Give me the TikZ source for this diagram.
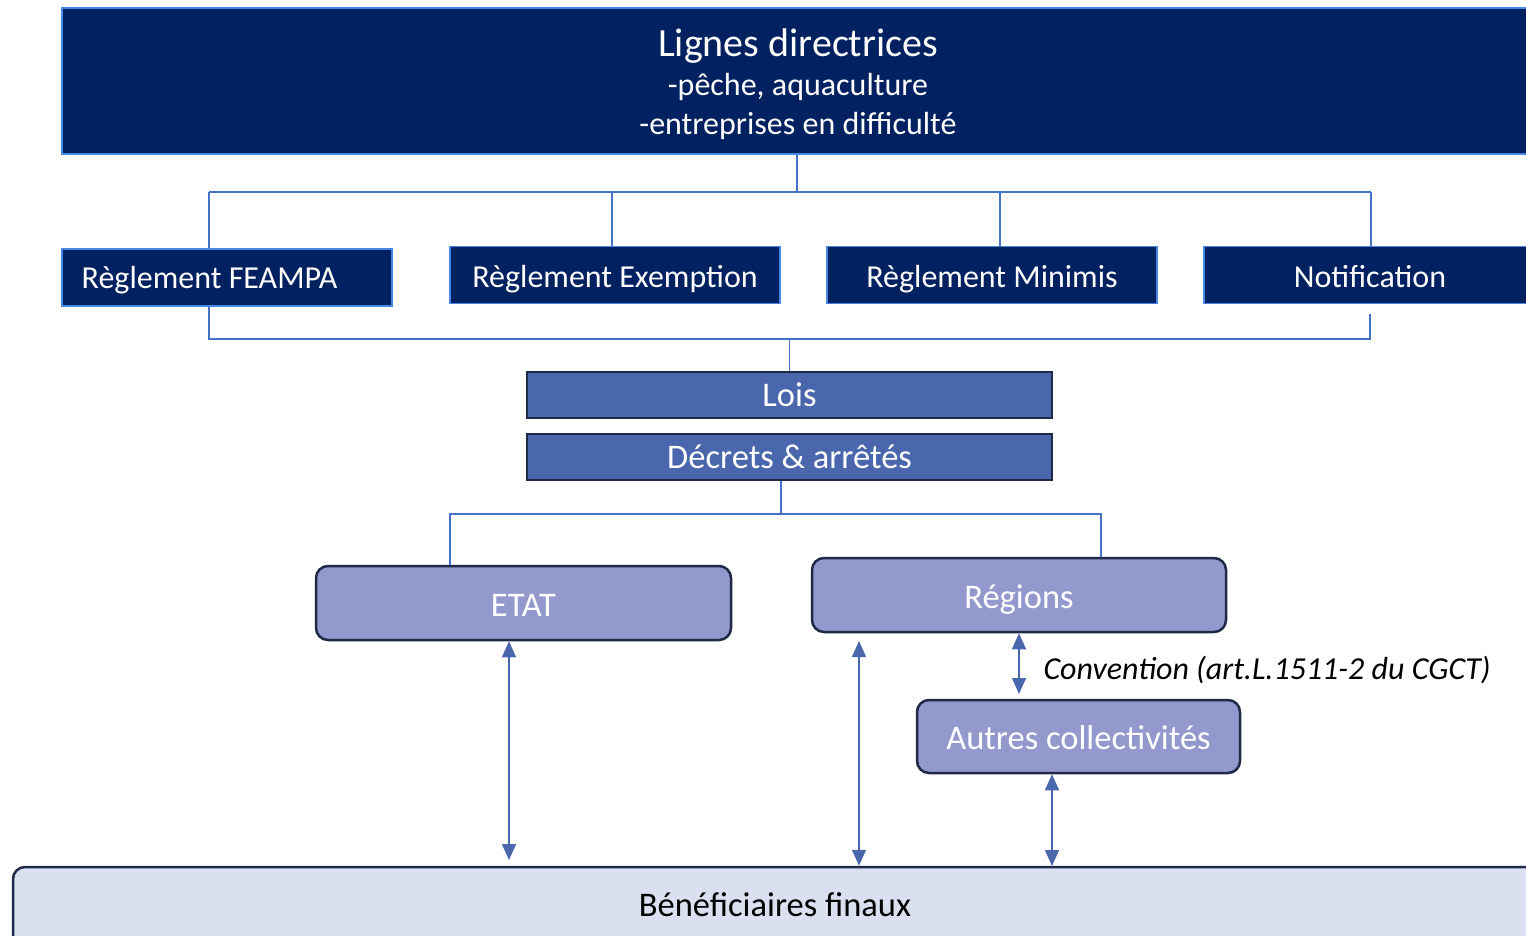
\documentclass[tikz,border=0pt]{standalone}
\usepackage{fontspec}
\setmainfont{Carlito}
\usetikzlibrary{arrows.meta}
\definecolor{navy}{RGB}{2,33,96}
\definecolor{lightedge}{RGB}{70,135,230}
\definecolor{connc}{RGB}{68,114,196}
\definecolor{midblue}{RGB}{74,103,173}
\definecolor{darkedge}{RGB}{30,42,72}
\definecolor{lav}{RGB}{147,153,205}
\definecolor{pale}{RGB}{218,224,240}
\tikzset{
  topbox/.style={draw=lightedge,line width=1.5pt,fill=navy,text=white,inner sep=0pt},
  regbox/.style={draw=lightedge,line width=1.5pt,fill=navy,text=white,minimum width=330pt,minimum height=57pt,inner sep=0pt,text height=28pt,text depth=4pt,font=\fontsize{32}{36}\selectfont},
  regtext/.style={text=white,inner sep=0pt,font=\fontsize{32}{36}\selectfont},
  lawbox/.style={draw=darkedge,line width=2pt,fill=midblue,text=white,minimum width=525pt,minimum height=46pt,inner sep=0pt,font=\fontsize{34.5}{38}\selectfont},
  actbox/.style={draw=darkedge,line width=2.5pt,fill=lav,text=white,rounded corners=12pt,inner sep=0pt,text height=30pt,text depth=4pt,font=\fontsize{34.5}{38}\selectfont},
  conn/.style={draw=connc,line width=1.2pt},
  arr/.style={draw=connc,line width=1.5pt,{Triangle[width=14pt,length=16pt]}-{Triangle[width=14pt,length=16pt]},color=midblue}
}
\begin{document}
\begin{tikzpicture}[x=1pt,y=-1pt]
\useasboundingbox (0,0) rectangle (1526,936);
% top box
\node[topbox,minimum width=1472pt,minimum height=146pt] (top) at (798,81) {};
\node[text=white,font=\fontsize{40}{44}\selectfont] (t1) at (798,46) {Lignes directrices};
\node[text=white,font=\fontsize{32}{36}\selectfont] (t2) at (798,87) {-pêche, aquaculture};
\node[text=white,font=\fontsize{32}{36}\selectfont] (t3) at (798,126) {-entreprises en difficulté};
% regulation boxes
\node[regbox] (feampa) at (227,277.5) {};
\node[regtext] (feampal) at (209.5,280) {Règlement FEAMPA};
\node[regbox] (exempt) at (615,275) {Règlement Exemption};
\node[regbox] (minimis) at (992,275) {Règlement Minimis};
\node[regbox,minimum width=332pt] (notif) at (1370,275) {Notification};
% upper bracket
\coordinate (j1) at (797,192);
\coordinate (b1) at (209,192);
\coordinate (b2) at (612,192);
\coordinate (b3) at (1000,192);
\coordinate (b4) at (1371,192);
\draw[conn] (top.south -| j1) -- (j1);
\draw[conn] (b1) -- (b4);
\draw[conn] (b1) -- (b1 |- feampa.north);
\draw[conn] (b2) -- (b2 |- exempt.north);
\draw[conn] (b3) -- (b3 |- minimis.north);
\draw[conn] (b4) -- (b4 |- notif.north);
% laws
\node[lawbox] (lois) at (789.5,394.5) {Lois};
\node[lawbox] (decrets) at (789.5,456.5) {Décrets \& arrêtés};
% lower bracket
\coordinate (c1) at (209,339);
\coordinate (c2) at (1370,339);
\coordinate (c3) at (1370,314);
\draw[conn] (c1 |- feampa.south) -- (c1) -- (c2) -- (c3);
\draw[conn] (lois.north) -- (lois.north |- c1);
% actors
\node[actbox,minimum width=415pt,minimum height=74pt] (etat) at (523.5,603) {ETAT};
\node[actbox,minimum width=414pt,minimum height=74pt] (regions) at (1019,595) {Régions};
\node[actbox,minimum width=323pt,minimum height=73pt] (autres) at (1078.5,736.5) {Autres collectivités};
\node[actbox,fill=pale,text=black,minimum width=1524pt,minimum height=80pt] (benef) at (775,907) {};
\node[font=\fontsize{34.5}{38}\selectfont] (benefl) at (775,905) {Bénéficiaires finaux};
% decree bracket
\coordinate (d1) at (781,514);
\coordinate (e1) at (450,514);
\coordinate (e2) at (1101,514);
\draw[conn] (decrets.south -| d1) -- (d1);
\draw[conn] (etat.north -| e1) -- (e1) -- (e2) -- (regions.north -| e2);
% arrows
\coordinate (a1) at (509,860);
\coordinate (a2) at (859,641);
\coordinate (a3) at (1019,694);
\coordinate (a4) at (1052,866);
\draw[arr] (etat.south -| a1) -- (a1);
\draw[arr] (a2) -- (benef.north -| a2);
\draw[arr] (regions.south) -- (a3);
\draw[arr] (autres.south -| a4) -- (a4);
\node[anchor=west,font=\itshape\fontsize{32}{36}\selectfont] (conv) at (1040,670) {Convention (art.L.1511-2 du CGCT)};
\end{tikzpicture}
\end{document}
